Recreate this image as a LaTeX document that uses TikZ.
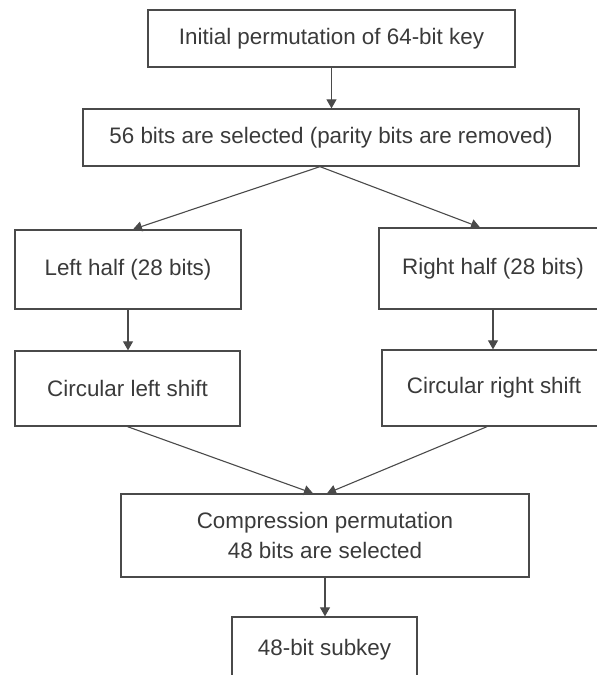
\documentclass[tikz,border=0pt]{standalone}
\usepackage{fontspec}
\setmainfont{Liberation Sans}
\usetikzlibrary{arrows.meta}
\definecolor{boxline}{HTML}{4A4A4A}
\definecolor{boxtext}{HTML}{3A3A3A}
\tikzset{
 keybox/.style={draw=boxline,line width=1.3pt,text=boxtext,font=\fontsize{22.4}{30}\selectfont,align=center,inner sep=0pt},
 flow/.style={draw=boxline,line width=1.1pt,-{Triangle[length=9pt,width=10pt]}}
}
\begin{document}
\begin{tikzpicture}[x=1pt,y=-1pt]
 \clip (0,0) rectangle (597,675);
 % boxes
 \node[keybox,minimum width=367pt,minimum height=57pt] (init) at (331.5,38.5) {Initial permutation of 64-bit key};
 \node[keybox,minimum width=496pt,minimum height=57pt] (sel) at (331,137.5) {56 bits are selected (parity bits are removed)};
 \node[keybox,minimum width=226pt,minimum height=79pt] (lhalf) at (128,269.5) {Left half (28 bits)};
 \node[keybox,minimum width=228pt,minimum height=81pt] (rhalf) at (493,268.5) {Right half (28 bits)};
 \node[keybox,minimum width=225pt,minimum height=75pt] (lshift) at (127.5,388.5) {Circular left shift};
 \node[keybox,minimum width=224pt,minimum height=76pt] (rshift) at (494,388) {Circular right shift};
 \node[keybox,minimum width=408pt,minimum height=83pt] (comp) at (325,535.5) {Compression permutation\\48 bits are selected};
 \node[keybox,minimum width=185pt,minimum height=66pt] (subkey) at (324.5,650) {48-bit subkey};
 % arrows
 \draw[flow] (init.south) -- (init.south |- sel.north);
 \draw[flow] ([xshift=-11pt]sel.south) -- ([xshift=5pt]lhalf.north);
 \draw[flow] ([xshift=-11pt]sel.south) -- ([xshift=-13pt]rhalf.north);
 \draw[flow] (lhalf.south) -- (lhalf.south |- lshift.north);
 \draw[flow] (rhalf.south) -- (rhalf.south |- rshift.north);
 \draw[flow] (lshift.south) -- ([xshift=-12pt]comp.north);
 \draw[flow] ([xshift=-7pt]rshift.south) -- ([xshift=2pt]comp.north);
 \draw[flow] (comp.south) -- (comp.south |- subkey.north);
\end{tikzpicture}
\end{document}
